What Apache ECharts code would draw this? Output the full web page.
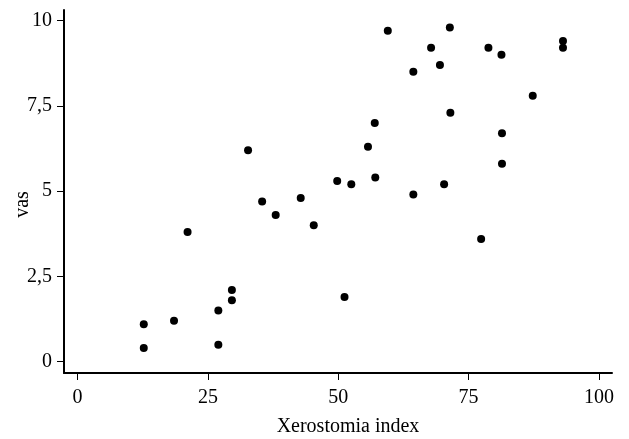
<!DOCTYPE html>
<html>
<head>
<meta charset="utf-8">
<script src="https://cdn.jsdelivr.net/npm/echarts@6/dist/echarts.min.js"></script>
<style>
  html, body { margin: 0; padding: 0; background: #fff; }
  #chart { width: 629px; height: 439px; }
</style>
</head>
<body>
<div id="chart"></div>
<script>
// Xerostomia index (x) vs vas (y)
const xeroIndex = [12.7, 12.7, 18.5, 21.1, 27.0, 27.0, 29.6, 29.6, 32.7, 35.4, 38.0, 42.8, 45.3,
  49.8, 51.2, 52.5, 55.7, 57.0, 57.1, 59.5, 64.4, 64.4, 67.8, 69.5, 70.3, 71.4, 71.5,
  77.4, 78.8, 81.3, 81.4, 81.4, 87.3, 93.1, 93.1];
const vasScore = [1.1, 0.4, 1.2, 3.8, 1.5, 0.5, 2.1, 1.8, 6.2, 4.7, 4.3, 4.8, 4.0,
  5.3, 1.9, 5.2, 6.3, 7.0, 5.4, 9.7, 8.5, 4.9, 9.2, 8.7, 5.2, 9.8, 7.3,
  3.6, 9.2, 9.0, 6.7, 5.8, 7.8, 9.4, 9.2];
const xTicks = [0, 25, 50, 75, 100];
const yTicks = [0, 2.5, 5, 7.5, 10];

const points = xeroIndex.map((x, i) => [x, vasScore[i]]);
const labelFont = 'Liberation Serif';

const chart = echarts.init(document.getElementById('chart'));
chart.setOption({
  animation: false,
  grid: { left: 64, right: 17, top: 10, bottom: 66, containLabel: false, outerBoundsMode: 'none' },
  xAxis: {
    type: 'value',
    min: -2.6,
    max: 102.5,
    name: 'Xerostomia index',
    nameLocation: 'middle',
    nameGap: 44,
    nameMoveOverlap: false,
    nameTextStyle: { fontFamily: labelFont, fontSize: 20, color: '#000', padding: [0, 0, 0, 20] },
    axisLine: { show: true, onZero: false, lineStyle: { color: '#000', width: 2 } },
    axisTick: { show: true, customValues: xTicks, length: 7 },
    axisLabel: {
      customValues: xTicks,
      margin: 15,
      fontFamily: labelFont,
      fontSize: 20,
      color: '#000'
    },
    splitLine: { show: false }
  },
  yAxis: {
    type: 'value',
    min: -0.33,
    max: 10.31,
    name: 'vas',
    nameLocation: 'middle',
    nameGap: 31,
    nameMoveOverlap: false,
    nameTextStyle: { fontFamily: labelFont, fontSize: 20, color: '#000', padding: [0, 26, 0, 0] },
    axisLine: { show: true, onZero: false, lineStyle: { color: '#000', width: 2 } },
    axisTick: { show: true, customValues: yTicks, length: 7 },
    axisLabel: {
      customValues: yTicks,
      margin: 12,
      fontFamily: labelFont,
      fontSize: 20,
      color: '#000',
      formatter: v => String(v).replace('.', ',')
    },
    splitLine: { show: false }
  },
  series: [{
    type: 'scatter',
    data: points,
    symbolSize: 8,
    itemStyle: { color: '#000', opacity: 1 }
  }]
});
</script>
</body>
</html>
